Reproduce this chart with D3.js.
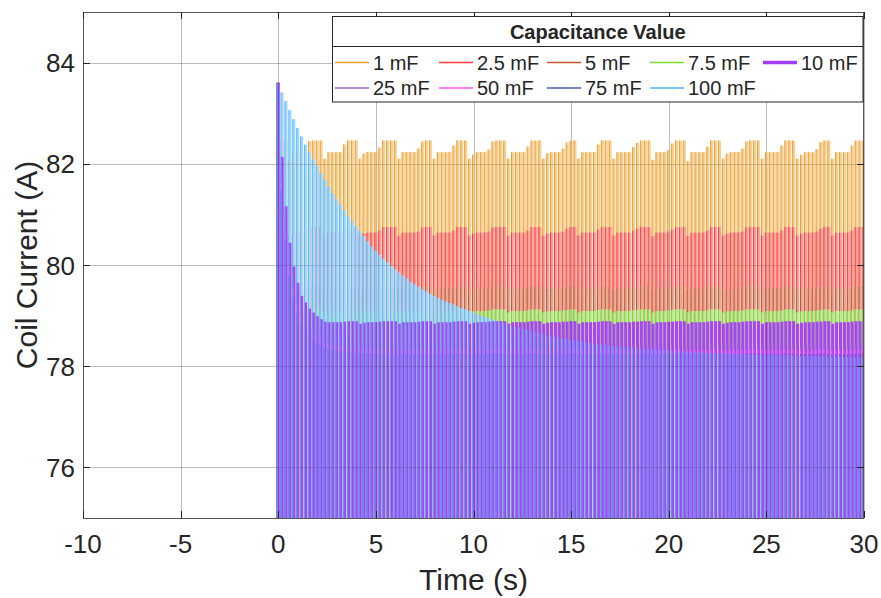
<!DOCTYPE html>
<html><head><meta charset="utf-8">
<script src="https://cdn.jsdelivr.net/npm/d3@7"></script>
<style>
body{margin:0;background:#fff}
svg{display:block}
text{font-family:"Liberation Sans",Arial,Helvetica,sans-serif;fill:#262626}
</style>
</head><body>
<svg id="c" width="881" height="598"></svg>
<script>
// ---------- DATA ----------
const time = [0,0.2,0.4,0.6,0.8,1,1.2,1.4,1.6,1.8,
2,2.2,2.4,2.6,2.8,3,3.2,3.4,3.6,3.8,
4,4.2,4.4,4.6,4.8,5,5.2,5.4,5.6,5.8,
6,6.2,6.4,6.6,6.8,7,7.2,7.4,7.6,7.8,
8,8.2,8.4,8.6,8.8,9,9.2,9.4,9.6,9.8,
10,10.2,10.4,10.6,10.8,11,11.2,11.4,11.6,11.8,
12,12.2,12.4,12.6,12.8,13,13.2,13.4,13.6,13.8,
14,14.2,14.4,14.6,14.8,15,15.2,15.4,15.6,15.8,
16,16.2,16.4,16.6,16.8,17,17.2,17.4,17.6,17.8,
18,18.2,18.4,18.6,18.8,19,19.2,19.4,19.6,19.8,
20,20.2,20.4,20.6,20.8,21,21.2,21.4,21.6,21.8,
22,22.2,22.4,22.6,22.8,23,23.2,23.4,23.6,23.8,
24,24.2,24.4,24.6,24.8,25,25.2,25.4,25.6,25.8,
26,26.2,26.4,26.6,26.8,27,27.2,27.4,27.6,27.8,
28,28.2,28.4,28.6,28.8,29,29.2,29.4,29.6,29.8,
30];

const c1mF = [83.60,82.46,82.46,82.10,82.23,82.23,82.23,82.23,82.45,82.46,
82.46,82.46,82.10,82.23,82.23,82.23,82.23,82.38,82.46,82.46,
82.46,82.10,82.20,82.23,82.23,82.23,82.32,82.46,82.46,82.46,
82.46,82.10,82.23,82.23,82.23,82.23,82.30,82.44,82.46,82.46,
82.10,82.23,82.23,82.23,82.23,82.36,82.46,82.46,82.46,82.10,
82.18,82.23,82.23,82.23,82.28,82.44,82.46,82.46,82.46,82.10,
82.23,82.23,82.23,82.23,82.34,82.46,82.46,82.46,82.10,82.21,
82.23,82.23,82.23,82.30,82.42,82.46,82.46,82.10,82.23,82.23,
82.23,82.23,82.38,82.46,82.46,82.46,82.10,82.23,82.23,82.23,
82.23,82.33,82.41,82.46,82.46,82.46,82.08,82.23,82.23,82.23,
82.27,82.40,82.46,82.46,82.46,82.05,82.23,82.23,82.23,82.23,
82.34,82.46,82.46,82.46,82.10,82.20,82.23,82.23,82.23,82.30,
82.44,82.46,82.46,82.46,82.10,82.23,82.23,82.23,82.23,82.36,
82.46,82.46,82.46,82.10,82.18,82.23,82.23,82.23,82.29,82.43,
82.46,82.46,82.10,82.23,82.23,82.23,82.23,82.36,82.46,82.46,
82.46];

const c2_5mF = [83.60,81.50,80.90,80.58,80.64,80.64,80.64,80.64,80.74,80.75,
80.75,80.75,80.58,80.64,80.64,80.64,80.64,80.70,80.75,80.75,
80.75,80.58,80.62,80.64,80.64,80.64,80.68,80.75,80.75,80.75,
80.75,80.58,80.64,80.64,80.64,80.64,80.66,80.74,80.75,80.75,
80.58,80.64,80.64,80.64,80.64,80.68,80.75,80.75,80.75,80.58,
80.62,80.64,80.64,80.64,80.66,80.74,80.75,80.75,80.75,80.58,
80.64,80.64,80.64,80.64,80.68,80.75,80.75,80.75,80.58,80.62,
80.64,80.64,80.64,80.66,80.72,80.75,80.75,80.58,80.64,80.64,
80.64,80.64,80.70,80.75,80.75,80.75,80.58,80.64,80.64,80.64,
80.64,80.68,80.72,80.75,80.75,80.75,80.57,80.64,80.64,80.64,
80.66,80.70,80.75,80.75,80.75,80.57,80.64,80.64,80.64,80.64,
80.68,80.75,80.75,80.75,80.58,80.62,80.64,80.64,80.64,80.66,
80.74,80.75,80.75,80.75,80.58,80.64,80.64,80.64,80.64,80.68,
80.75,80.75,80.75,80.58,80.62,80.64,80.64,80.64,80.66,80.72,
80.75,80.75,80.58,80.64,80.64,80.64,80.64,80.68,80.75,80.75,
80.75];

const c5mF = [83.60,81.00,80.00,79.70,79.60,79.56,79.54,79.54,79.58,79.58,
79.58,79.58,79.51,79.54,79.54,79.54,79.54,79.57,79.58,79.58,
79.58,79.51,79.53,79.54,79.54,79.54,79.56,79.58,79.58,79.58,
79.58,79.51,79.54,79.54,79.54,79.54,79.55,79.58,79.58,79.58,
79.51,79.54,79.54,79.54,79.54,79.56,79.58,79.58,79.58,79.51,
79.53,79.54,79.54,79.54,79.55,79.58,79.58,79.58,79.58,79.51,
79.54,79.54,79.54,79.54,79.56,79.58,79.58,79.58,79.51,79.53,
79.54,79.54,79.54,79.55,79.57,79.58,79.58,79.51,79.54,79.54,
79.54,79.54,79.57,79.58,79.58,79.58,79.51,79.54,79.54,79.54,
79.54,79.56,79.57,79.58,79.58,79.58,79.51,79.54,79.54,79.54,
79.55,79.57,79.58,79.58,79.58,79.51,79.54,79.54,79.54,79.54,
79.56,79.58,79.58,79.58,79.51,79.53,79.54,79.54,79.54,79.55,
79.58,79.58,79.58,79.58,79.51,79.54,79.54,79.54,79.54,79.56,
79.58,79.58,79.58,79.51,79.53,79.54,79.54,79.54,79.55,79.57,
79.58,79.58,79.51,79.54,79.54,79.54,79.54,79.56,79.58,79.58,
79.58];

const c7_5mF = [83.60,81.40,80.30,79.75,79.45,79.28,79.18,79.12,79.12,79.12,
79.12,79.12,79.06,79.09,79.09,79.09,79.09,79.11,79.12,79.12,
79.12,79.06,79.08,79.09,79.09,79.09,79.10,79.12,79.12,79.12,
79.12,79.06,79.09,79.09,79.09,79.09,79.10,79.12,79.12,79.12,
79.06,79.09,79.09,79.09,79.09,79.10,79.12,79.12,79.12,79.06,
79.08,79.09,79.09,79.09,79.10,79.12,79.12,79.12,79.12,79.06,
79.09,79.09,79.09,79.09,79.10,79.12,79.12,79.12,79.06,79.08,
79.09,79.09,79.09,79.10,79.11,79.12,79.12,79.06,79.09,79.09,
79.09,79.09,79.11,79.12,79.12,79.12,79.06,79.09,79.09,79.09,
79.09,79.10,79.11,79.12,79.12,79.12,79.06,79.09,79.09,79.09,
79.10,79.11,79.12,79.12,79.12,79.06,79.09,79.09,79.09,79.09,
79.10,79.12,79.12,79.12,79.06,79.08,79.09,79.09,79.09,79.10,
79.12,79.12,79.12,79.12,79.06,79.09,79.09,79.09,79.09,79.10,
79.12,79.12,79.12,79.06,79.08,79.09,79.09,79.09,79.10,79.11,
79.12,79.12,79.06,79.09,79.09,79.09,79.09,79.10,79.12,79.12,
79.12];

const c10mF = [83.60,82.14,81.16,80.44,79.97,79.65,79.39,79.26,79.14,79.06,
78.99,78.93,78.88,78.87,78.87,78.87,78.87,78.88,78.89,78.89,
78.89,78.84,78.86,78.87,78.87,78.87,78.88,78.89,78.89,78.89,
78.89,78.84,78.87,78.87,78.87,78.87,78.88,78.89,78.89,78.89,
78.84,78.87,78.87,78.87,78.87,78.88,78.89,78.89,78.89,78.84,
78.86,78.87,78.87,78.87,78.88,78.89,78.89,78.89,78.89,78.84,
78.87,78.87,78.87,78.87,78.88,78.89,78.89,78.89,78.84,78.86,
78.87,78.87,78.87,78.88,78.88,78.89,78.89,78.84,78.87,78.87,
78.87,78.87,78.88,78.89,78.89,78.89,78.84,78.87,78.87,78.87,
78.87,78.88,78.88,78.89,78.89,78.89,78.84,78.87,78.87,78.87,
78.88,78.88,78.89,78.89,78.89,78.84,78.87,78.87,78.87,78.87,
78.88,78.89,78.89,78.89,78.84,78.86,78.87,78.87,78.87,78.88,
78.89,78.89,78.89,78.89,78.84,78.87,78.87,78.87,78.87,78.88,
78.89,78.89,78.89,78.84,78.86,78.87,78.87,78.87,78.88,78.88,
78.89,78.89,78.84,78.87,78.87,78.87,78.87,78.88,78.89,78.89,
78.89];

const c25mF = [83.60,81.90,80.90,80.20,79.75,79.42,79.18,79.00,78.87,78.77,
78.70,78.64,78.60,78.56,78.53,78.51,78.49,78.48,78.47,78.46,
78.45,78.44,78.44,78.44,78.43,78.43,78.43,78.44,78.44,78.44,
78.44,78.42,78.43,78.43,78.43,78.43,78.43,78.44,78.44,78.44,
78.42,78.43,78.43,78.43,78.43,78.43,78.44,78.44,78.44,78.42,
78.43,78.43,78.43,78.43,78.43,78.44,78.44,78.44,78.44,78.42,
78.43,78.43,78.43,78.43,78.43,78.44,78.44,78.44,78.42,78.43,
78.43,78.43,78.43,78.43,78.44,78.44,78.44,78.42,78.43,78.43,
78.43,78.43,78.44,78.44,78.44,78.44,78.42,78.43,78.43,78.43,
78.43,78.43,78.44,78.44,78.44,78.44,78.42,78.43,78.43,78.43,
78.43,78.44,78.44,78.44,78.44,78.42,78.43,78.43,78.43,78.43,
78.43,78.44,78.44,78.44,78.42,78.43,78.43,78.43,78.43,78.43,
78.44,78.44,78.44,78.44,78.42,78.43,78.43,78.43,78.43,78.43,
78.44,78.44,78.44,78.42,78.43,78.43,78.43,78.43,78.43,78.44,
78.44,78.44,78.42,78.43,78.43,78.43,78.43,78.43,78.44,78.44,
78.44];

const c50mF = [83.60,81.70,80.70,80.00,79.55,79.22,79.00,78.84,78.72,78.63,
78.56,78.51,78.47,78.44,78.42,78.40,78.38,78.37,78.36,78.35,
78.35,78.34,78.34,78.34,78.33,78.33,78.33,78.33,78.33,78.33,
78.33,78.31,78.32,78.32,78.32,78.32,78.32,78.33,78.33,78.33,
78.31,78.32,78.32,78.32,78.32,78.32,78.33,78.33,78.33,78.31,
78.32,78.32,78.32,78.32,78.32,78.33,78.33,78.33,78.33,78.31,
78.32,78.32,78.32,78.32,78.32,78.33,78.33,78.33,78.31,78.32,
78.32,78.32,78.32,78.32,78.33,78.33,78.33,78.31,78.32,78.32,
78.32,78.32,78.33,78.33,78.33,78.33,78.31,78.32,78.32,78.32,
78.32,78.32,78.33,78.33,78.33,78.33,78.31,78.32,78.32,78.32,
78.32,78.33,78.33,78.33,78.33,78.31,78.32,78.32,78.32,78.32,
78.32,78.33,78.33,78.33,78.31,78.32,78.32,78.32,78.32,78.32,
78.33,78.33,78.33,78.33,78.31,78.32,78.32,78.32,78.32,78.32,
78.33,78.33,78.33,78.31,78.32,78.32,78.32,78.32,78.32,78.33,
78.33,78.33,78.31,78.32,78.32,78.32,78.32,78.32,78.33,78.33,
78.33];

const c75mF = [83.60,81.50,80.50,79.80,79.35,79.05,78.85,78.70,78.60,78.52,
78.46,78.42,78.38,78.35,78.33,78.31,78.30,78.29,78.28,78.27,
78.27,78.26,78.26,78.26,78.25,78.25,78.25,78.25,78.25,78.25,
78.25,78.23,78.24,78.24,78.24,78.24,78.24,78.25,78.25,78.25,
78.23,78.24,78.24,78.24,78.24,78.24,78.25,78.25,78.25,78.23,
78.24,78.24,78.24,78.24,78.24,78.25,78.25,78.25,78.25,78.23,
78.24,78.24,78.24,78.24,78.24,78.25,78.25,78.25,78.23,78.24,
78.24,78.24,78.24,78.24,78.25,78.25,78.25,78.23,78.24,78.24,
78.24,78.24,78.25,78.25,78.25,78.25,78.23,78.24,78.24,78.24,
78.24,78.24,78.25,78.25,78.25,78.25,78.23,78.24,78.24,78.24,
78.24,78.25,78.25,78.25,78.25,78.23,78.24,78.24,78.24,78.24,
78.24,78.25,78.25,78.25,78.23,78.24,78.24,78.24,78.24,78.24,
78.25,78.25,78.25,78.25,78.23,78.24,78.24,78.24,78.24,78.24,
78.25,78.25,78.25,78.23,78.24,78.24,78.24,78.24,78.24,78.25,
78.25,78.25,78.23,78.24,78.24,78.24,78.24,78.24,78.25,78.25,
78.25];

const c100mF = [83.58,83.41,83.24,83.06,82.88,82.71,82.54,82.38,82.23,82.09,
81.95,81.81,81.68,81.55,81.42,81.30,81.19,81.08,80.97,80.87,
80.77,80.67,80.57,80.47,80.37,80.28,80.20,80.12,80.05,79.98,
79.91,79.85,79.79,79.73,79.67,79.62,79.57,79.52,79.47,79.43,
79.39,79.35,79.31,79.28,79.25,79.22,79.18,79.15,79.12,79.09,
79.06,79.03,79.00,78.97,78.95,78.92,78.90,78.87,78.85,78.82,
78.80,78.78,78.76,78.74,78.72,78.70,78.68,78.66,78.64,78.62,
78.60,78.59,78.57,78.56,78.54,78.53,78.51,78.50,78.49,78.47,
78.46,78.45,78.44,78.43,78.42,78.41,78.40,78.40,78.39,78.38,
78.37,78.37,78.36,78.35,78.35,78.34,78.33,78.33,78.32,78.32,
78.31,78.31,78.30,78.30,78.29,78.29,78.28,78.28,78.28,78.27,
78.27,78.26,78.26,78.26,78.25,78.25,78.25,78.24,78.24,78.24,
78.23,78.23,78.23,78.23,78.22,78.22,78.22,78.22,78.21,78.21,
78.21,78.21,78.21,78.20,78.20,78.20,78.20,78.20,78.20,78.19,
78.19,78.19,78.19,78.19,78.19,78.18,78.18,78.18,78.18,78.18,
78.18];

const seriesNames = ["1 mF","2.5 mF","5 mF","7.5 mF","10 mF","25 mF","50 mF","75 mF","100 mF"];
const seriesValues = [c1mF,c2_5mF,c5mF,c7_5mF,c10mF,c25mF,c50mF,c75mF,c100mF];
const xTicks = [-10,-5,0,5,10,15,20,25,30];
const yTicks = [76,78,80,82,84];
const legendTitle = "Capacitance Value";
const xLabel = "Time (s)";
const yLabel = "Coil Current (A)";

// ---------- STYLE ----------
const colors = ["#F0A030","#FF3B3B","#C8552E","#77DD33","#A23DFF","#9E6AB8","#FF55FF","#4B5DAA","#4DB3FF"];
const lightColors = colors.map(c=>d3.interpolateRgb("#ffffff", c)(0.5));

const svg = d3.select("#c");
const L=83, R=864, T=12, B=518;
const x = d3.scaleLinear().domain([-10,30]).range([L,R]);
const y = d3.scaleLinear().domain([75,85]).range([B,T]);

svg.append("rect").attr("width",881).attr("height",598).attr("fill","#fff");

svg.append("defs").append("clipPath").attr("id","pc")
  .append("rect").attr("x",L).attr("y",T).attr("width",R-L).attr("height",B-T);

function drawGrid(g, op){
  g.selectAll(".gx").data(xTicks).join("line").attr("class","gx")
    .attr("x1",d=>Math.round(x(d))+0.5).attr("x2",d=>Math.round(x(d))+0.5)
    .attr("y1",T).attr("y2",B).attr("stroke","#000").attr("stroke-opacity",op);
  g.selectAll(".gy").data(yTicks).join("line").attr("class","gy")
    .attr("y1",d=>Math.round(y(d))+0.5).attr("y2",d=>Math.round(y(d))+0.5)
    .attr("x1",L).attr("x2",R).attr("stroke","#000").attr("stroke-opacity",op);
}
drawGrid(svg.append("g"), 0.15);

const plot = svg.append("g").attr("clip-path","url(#pc)");
const step = x(0.2)-x(0);
const bw = step*0.78;
const y0 = y(75);

function drawFill(si){
  const v = seriesValues[si];
  plot.append("g").selectAll("rect").data(time).join("rect")
    .attr("x",t=>x(t)-bw/2).attr("width",bw)
    .attr("y",(t,i)=>y(v[i])).attr("height",(t,i)=>y0-y(v[i])+2)
    .attr("fill",lightColors[si]);
}
function drawEdge(si, w){
  const v = seriesValues[si];
  plot.append("g").selectAll("line").data(time).join("line")
    .attr("x1",t=>x(t)-bw/2+0.5).attr("x2",t=>x(t)-bw/2+0.5)
    .attr("y1",(t,i)=>y(v[i])).attr("y2",y0+2)
    .attr("stroke",colors[si]).attr("stroke-width",w);
}
[0,1,2,3].forEach(si=>{ drawFill(si); drawEdge(si,1); });
[5,6,7,8].forEach(si=>drawFill(si));
// 10 mF (thick line) over the fills
(function(){
  const v = seriesValues[4];
  plot.append("g").selectAll("rect").data(time).join("rect")
    .attr("x",t=>x(t)-step/2+0.4).attr("width",step-0.9)
    .attr("y",(t,i)=>y(v[i])).attr("height",(t,i)=>y0-y(v[i])+2)
    .attr("fill",colors[4]).attr("fill-opacity",0.95);
})();
[5,6,7,8].forEach(si=>drawEdge(si,0.85));

drawGrid(svg.append("g"), 0.12);

svg.append("rect").attr("x",L+0.5).attr("y",T+0.5).attr("width",R-L-1).attr("height",B-T)
  .attr("fill","none").attr("stroke","#555").attr("stroke-width",1);

const tk = svg.append("g").attr("stroke","#262626");
xTicks.forEach(d=>{
  const xx=Math.round(x(d))+0.5;
  tk.append("line").attr("x1",xx).attr("x2",xx).attr("y1",B).attr("y2",B-7);
  tk.append("line").attr("x1",xx).attr("x2",xx).attr("y1",T).attr("y2",T+7);
});
yTicks.forEach(d=>{
  const yy=Math.round(y(d))+0.5;
  tk.append("line").attr("x1",L).attr("x2",L+7).attr("y1",yy).attr("y2",yy);
  tk.append("line").attr("x1",R).attr("x2",R-7).attr("y1",yy).attr("y2",yy);
});

svg.append("g").selectAll("text").data(xTicks).join("text")
  .attr("x",d=>x(d)).attr("y",553).attr("text-anchor","middle")
  .attr("font-size",26).text(d=>d);
svg.append("g").selectAll("text").data(yTicks).join("text")
  .attr("x",75).attr("y",d=>y(d)+9.5).attr("text-anchor","end")
  .attr("font-size",26).text(d=>d);

svg.append("text").attr("x",(L+R)/2).attr("y",590).attr("text-anchor","middle")
  .attr("font-size",30).text(xLabel);
svg.append("text").attr("transform",`translate(37,${(T+B)/2}) rotate(-90)`)
  .attr("text-anchor","middle").attr("font-size",30).text(yLabel);

const lg = svg.append("g");
const lx0=332.5, lx1=863, ly0=16.5, ly1=102;
lg.append("rect").attr("x",lx0).attr("y",ly0).attr("width",lx1-lx0).attr("height",ly1-ly0)
  .attr("fill","#fff").attr("stroke","#262626").attr("stroke-width",1);
lg.append("line").attr("x1",lx0).attr("x2",lx1).attr("y1",46.5).attr("y2",46.5)
  .attr("stroke","#262626");
lg.append("text").attr("x",(lx0+lx1)/2).attr("y",39).attr("text-anchor","middle")
  .attr("font-size",20).attr("font-weight","bold").attr("fill","#000").text(legendTitle);
const colX = [335,439,547,650,763];
const rowY = [62.5,88];
seriesNames.forEach((n,i)=>{
  const c=i%5, r=Math.floor(i/5);
  lg.append("line").attr("x1",colX[c]).attr("x2",colX[c]+34).attr("y1",rowY[r]).attr("y2",rowY[r])
    .attr("stroke",colors[i]).attr("stroke-width",i===4?3.5:1.3);
  lg.append("text").attr("x",colX[c]+38).attr("y",rowY[r]+7).attr("font-size",20)
    .attr("fill","#000").text(n);
});
</script>
</body></html>
